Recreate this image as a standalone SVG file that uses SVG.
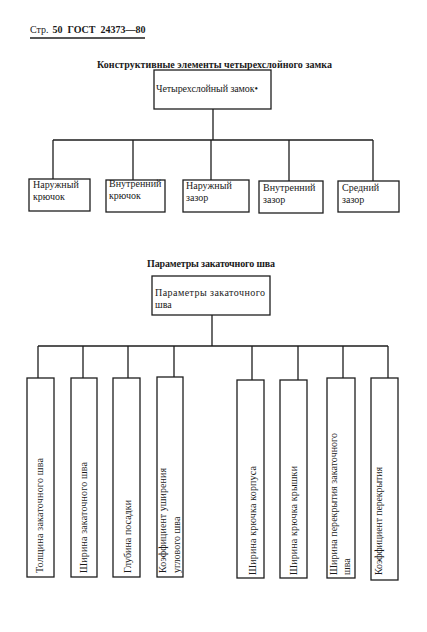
<svg xmlns="http://www.w3.org/2000/svg" width="427" height="632" viewBox="0 0 427 632">
<style>
.bg{fill:#ffffff}
.box{fill:none;stroke:#1e1e1e;stroke-width:1.3}
.ln{fill:none;stroke:#1e1e1e;stroke-width:1.3}
.t{font-family:"Liberation Serif","Times New Roman",serif;font-size:10px;fill:#1a1a1a}
.b{font-family:"Liberation Serif","Times New Roman",serif;font-size:10px;font-weight:bold;fill:#1a1a1a}
</style>
<rect class="bg" x="0" y="0" width="427" height="632"/>
<g id="header">
<text class="t" x="30" y="33" font-size="11"><tspan>Стр.</tspan><tspan font-weight="bold" dx="4">50</tspan><tspan font-weight="bold" dx="5">ГОСТ</tspan><tspan font-weight="bold" dx="5">24373—80</tspan></text>
<line class="ln" x1="30" y1="38" x2="145" y2="38"/>
</g>
<g id="title1"><text class="b" x="97" y="68" textLength="235" lengthAdjust="spacing">Конструктивные  элементы  четырехслойного  замка</text></g>
<g id="title2"><text class="b" x="147" y="267" textLength="128" lengthAdjust="spacing">Параметры закаточного шва</text></g>
<g id="connectors">
<path class="ln" d="M213 109V140M53 140H373M53 140V179M133 140V180M211 140V180M289 140V181M373 140V181"/>
<path class="ln" d="M212 315V346M38 346H388M38 346V378M83 346V378M128 346V378M174 346V377M252 346V380M298 346V380M343 346V378M388 346V378"/>
</g>
<g id="n_root1"><rect class="box" x="154" y="70" width="117" height="39"/><text class="t" x="156" y="92" textLength="102" lengthAdjust="spacing">Четырехслойный замок•</text></g>
<g id="n_a1"><rect class="box" x="29" y="179" width="61" height="32"/><text class="t" x="33" y="188">Наружный</text><text class="t" x="33" y="200">крючок</text></g>
<g id="n_a2"><rect class="box" x="106" y="180" width="59" height="32"/><text class="t" x="109" y="187">Внутренний</text><text class="t" x="109" y="199">крючок</text></g>
<g id="n_a3"><rect class="box" x="183" y="180" width="66" height="32"/><text class="t" x="186" y="189">Наружный</text><text class="t" x="186" y="201">зазор</text></g>
<g id="n_a4"><rect class="box" x="259" y="181" width="64" height="32"/><text class="t" x="263" y="191">Внутренний</text><text class="t" x="263" y="203">зазор</text></g>
<g id="n_a5"><rect class="box" x="338" y="181" width="61" height="31"/><text class="t" x="342" y="191">Средний</text><text class="t" x="342" y="203">зазор</text></g>
<g id="n_root2"><rect class="box" x="152" y="276" width="118" height="39"/><text class="t" x="155" y="296" textLength="110" lengthAdjust="spacing">Параметры закаточного</text><text class="t" x="155" y="308">шва</text></g>
<g id="n_b1"><rect class="box" x="27" y="378" width="27" height="199"/><text class="t" transform="translate(43,573) rotate(-90)" textLength="115" lengthAdjust="spacing">Толщина  закаточного шва</text></g>
<g id="n_b2"><rect class="box" x="71" y="378" width="26" height="199"/><text class="t" transform="translate(87,573) rotate(-90)" textLength="111" lengthAdjust="spacing">Ширина закаточного шва</text></g>
<g id="n_b3"><rect class="box" x="113" y="378" width="27" height="199"/><text class="t" transform="translate(131,573) rotate(-90)" textLength="73" lengthAdjust="spacing">Глубина посадки</text></g>
<g id="n_b4"><rect class="box" x="157" y="377" width="26" height="200"/><text class="t" transform="translate(166,573) rotate(-90)" textLength="105" lengthAdjust="spacing">Коэффициент уширения</text><text class="t" transform="translate(180,573) rotate(-90)">углового шва</text></g>
<g id="n_b5"><rect class="box" x="237" y="380" width="27" height="198"/><text class="t" transform="translate(256,575) rotate(-90)" textLength="109" lengthAdjust="spacing">Ширина крючка корпуса</text></g>
<g id="n_b6"><rect class="box" x="280" y="380" width="27" height="198"/><text class="t" transform="translate(297,575) rotate(-90)" textLength="109" lengthAdjust="spacing">Ширина крючка крышки</text></g>
<g id="n_b7"><rect class="box" x="327" y="378" width="28" height="200"/><text class="t" transform="translate(337,575) rotate(-90)" textLength="142" lengthAdjust="spacing">Ширина перекрытия закаточного</text><text class="t" transform="translate(350,575) rotate(-90)">шва</text></g>
<g id="n_b8"><rect class="box" x="371" y="378" width="27" height="202"/><text class="t" transform="translate(382,575) rotate(-90)" textLength="108" lengthAdjust="spacing">Коэффициент перекрытия</text></g>
</svg>
